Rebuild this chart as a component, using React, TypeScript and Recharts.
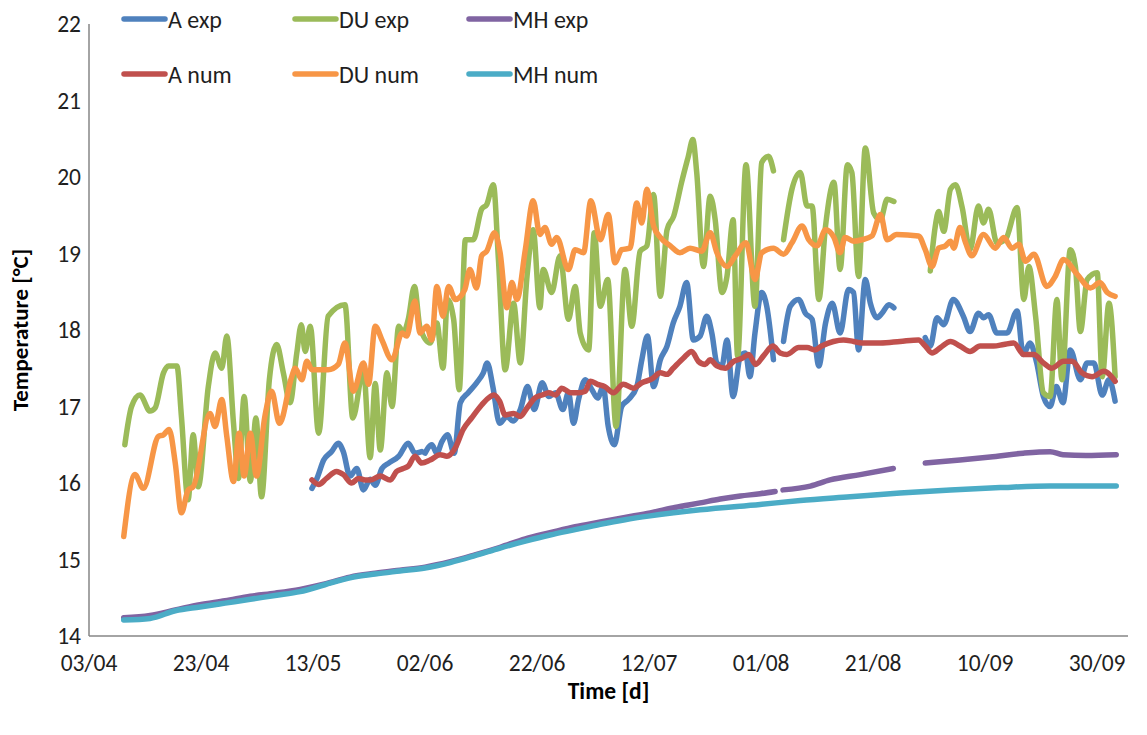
import React from 'react';
import { LineChart, Line, XAxis, YAxis, Legend } from 'recharts';

type Pt = [number, number | null];

const FONT = "Carlito, Calibri, 'Liberation Sans Narrow', 'Liberation Sans', sans-serif";

const seriesNames = ['A exp', 'DU exp', 'MH exp', 'A num', 'DU num', 'MH num'];
const seriesColors = ['#4F81BD', '#9BBB59', '#8064A2', '#C0504D', '#F79646', '#4BACC6'];

// x = days since 03/04
const dayTicks = [0, 20, 40, 60, 80, 100, 120, 140, 160, 180];
const dateLabels = ['03/04', '23/04', '13/05', '02/06', '22/06', '12/07', '01/08', '21/08', '10/09', '30/09'];
const tempTicks = [14, 15, 16, 17, 18, 19, 20, 21, 22];

const aExp: Pt[] = [
  [39.8, 15.93], [40.7, 16.06], [41.9, 16.3], [43.3, 16.41], [44.5, 16.52], [45.4, 16.41], [46.6, 16.09],
  [47.8, 16.19], [49.0, 15.91], [50.2, 16.05], [51.1, 15.97], [52.3, 16.19], [53.5, 16.26], [55.3, 16.35],
  [57.0, 16.52], [58.2, 16.39], [59.4, 16.41], [59.7, null], [60.0, 16.39], [61.2, 16.5], [62.1, 16.39],
  [63.0, 16.54], [64.0, 16.63], [65.2, 16.39], [66.3, 17.05], [67.7, 17.18], [69.2, 17.31], [70.4, 17.44],
  [71.1, 17.57], [72.1, 17.26], [73.3, 16.78], [74.6, 16.87], [75.7, 16.81], [77.0, 16.96], [78.3, 17.26],
  [79.5, 16.96], [80.9, 17.31], [82.1, 17.13], [83.3, 17.18], [84.6, 16.96], [85.6, 17.18], [86.5, 16.78],
  [87.4, 17.09], [88.6, 17.35], [89.8, 17.22], [90.8, 17.11], [91.8, 17.26], [92.7, 16.74], [93.8, 16.5],
  [95.1, 17.0], [96.3, 17.09], [97.8, 17.26], [98.7, 17.61], [99.7, 17.92], [100.8, 17.26], [102.0, 17.61],
  [103.2, 17.79], [104.3, 18.09], [105.5, 18.31], [106.7, 18.62], [107.9, 17.87], [109.1, 17.92], [110.3, 18.18],
  [111.2, 17.96], [112.1, 17.57], [113.0, 17.53], [113.9, 17.87], [115.0, 17.13], [116.3, 17.66], [117.2, 17.7],
  [118.0, 17.39], [118.9, 17.96], [120.1, 18.49], [121.0, 18.31], [122.2, 17.61], [123.1, null], [124.0, 17.85],
  [125.2, 18.31], [126.7, 18.4], [127.9, 18.22], [129.1, 18.14], [130.3, 17.53], [131.5, 18.09], [132.7, 18.35],
  [134.1, 17.96], [135.6, 18.53], [136.5, 18.49], [137.4, 17.74], [138.6, 18.66], [139.5, 18.35], [140.7, 18.16],
  [141.6, 18.22], [142.8, 18.33], [143.7, 18.29], [146.5, null], [149.3, 17.9], [150.2, 17.79], [151.4, 18.16],
  [152.6, 18.07], [154.3, 18.4], [156.1, 18.18], [157.3, 17.98], [158.8, 18.22], [159.7, 18.16], [160.6, 18.2],
  [162.1, 17.96], [163.9, 17.96], [165.7, 18.25], [166.8, 17.68], [168.0, 17.83], [169.2, 17.57], [170.4, 17.13],
  [171.6, 17.0], [172.7, 17.26], [173.9, 17.05], [175.2, 17.74], [177.0, 17.35], [178.2, 17.57], [179.4, 17.57],
  [180.9, 17.15], [182.1, 17.35], [183.2, 17.07],
];

const duExp: Pt[] = [
  [6.4, 16.5], [7.6, 17.0], [9.1, 17.15], [10.9, 16.94], [11.8, 16.98], [13.3, 17.44], [14.2, 17.53],
  [15.7, 17.53], [16.5, 16.87], [17.7, 15.78], [18.6, 16.63], [19.5, 15.95], [21.3, 17.26], [22.5, 17.7],
  [23.7, 17.5], [24.6, 17.92], [25.8, 16.78], [26.7, 16.06], [27.7, 17.13], [28.8, 16.02], [29.8, 16.85],
  [30.8, 15.82], [32.2, 17.35], [33.5, 17.81], [34.7, 17.44], [35.9, 17.05], [37.1, 17.7], [37.9, 18.07],
  [38.6, 17.72], [39.5, 18.05], [41.0, 16.65], [42.7, 18.18], [45.7, 18.33], [47.1, 16.85], [49.0, 17.48],
  [50.2, 16.33], [51.1, 17.3], [52.0, 16.43], [53.2, 17.44], [54.1, 17.0], [55.3, 18.05], [56.1, 17.96],
  [57.0, 18.14], [58.1, 18.57], [59.1, 18.03], [60.9, 17.83], [62.1, 18.09], [63.2, 17.5], [64.0, 18.4],
  [65.1, 18.14], [66.1, 17.22], [67.2, 19.18], [68.6, 19.18], [70.1, 19.58], [71.0, 19.64], [72.2, 19.9],
  [73.1, 18.92], [74.3, 17.48], [75.8, 18.35], [77.0, 17.57], [78.2, 18.7], [79.3, 19.31], [80.5, 18.29],
  [81.1, 18.79], [82.6, 18.49], [84.1, 18.97], [85.6, 18.14], [86.8, 18.57], [87.7, 17.96], [89.2, 17.74],
  [90.2, 19.27], [91.3, 18.31], [92.6, 18.66], [94.1, 16.74], [95.7, 18.79], [96.9, 18.05], [98.4, 19.03],
  [99.6, 19.1], [100.8, 19.77], [102.0, 18.44], [103.2, 19.31], [104.4, 19.49], [105.8, 19.93], [107.0, 20.27],
  [107.8, 20.49], [108.5, 20.06], [109.7, 18.83], [110.9, 19.75], [111.8, 19.44], [113.0, 18.49], [113.9, 18.7],
  [115.0, 19.44], [115.8, 17.66], [117.3, 20.16], [118.9, 18.31], [120.1, 20.19], [121.3, 20.27], [122.2, 20.08],
  [123.1, null], [124.0, 19.18], [125.5, 19.84], [127.0, 20.06], [128.2, 19.62], [129.1, 19.62], [130.3, 18.4],
  [131.5, 19.36], [133.0, 19.93], [134.1, 18.79], [135.4, 20.16], [136.2, 20.06], [137.4, 18.7], [138.6, 20.38],
  [140.1, 19.53], [141.3, 19.44], [142.5, 19.71], [143.7, 19.68], [147.0, null], [150.2, 18.77], [151.1, 19.36],
  [151.7, 19.55], [152.6, 19.29], [153.8, 19.84], [154.7, 19.9], [155.9, 19.6], [157.3, 19.05], [158.8, 19.62],
  [159.7, 19.4], [160.6, 19.58], [162.1, 19.14], [163.6, 19.18], [165.7, 19.6], [166.9, 18.4], [167.8, 18.83],
  [169.0, 18.18], [170.4, 17.18], [171.6, 17.13], [172.8, 18.4], [173.7, 17.35], [175.2, 19.05], [176.1, 18.83],
  [177.0, 17.98], [178.2, 18.66], [180.0, 18.75], [180.9, 17.39], [182.1, 18.35], [183.2, 17.39],
];

const mhExp: Pt[] = [
  [6.2, 14.24], [10.9, 14.27], [15.4, 14.34], [19.8, 14.41], [24.3, 14.46], [28.8, 14.52], [33.2, 14.56],
  [37.7, 14.61], [42.1, 14.68], [46.6, 14.77], [51.1, 14.82], [55.5, 14.86], [60.0, 14.9], [64.5, 14.97],
  [68.9, 15.06], [73.4, 15.16], [77.9, 15.27], [82.3, 15.35], [86.8, 15.43], [91.3, 15.49], [95.7, 15.55],
  [100.2, 15.61], [104.6, 15.68], [109.1, 15.74], [112.7, 15.79], [116.3, 15.83], [119.8, 15.86], [122.5, 15.89],
  [123.2, null], [123.9, 15.91], [128.8, 15.96], [132.3, 16.04], [137.7, 16.11], [143.6, 16.19], [146.0, null],
  [149.3, 16.26], [155.5, 16.3], [160.9, 16.34], [166.8, 16.39], [171.6, 16.41], [173.9, 16.37], [178.0, 16.36],
  [183.4, 16.37],
];

const aNum: Pt[] = [
  [39.8, 16.04], [41.0, 15.98], [42.4, 16.06], [44.2, 16.15], [45.4, 16.11], [46.9, 16.0], [48.1, 16.06],
  [49.3, 16.04], [50.2, 16.04], [52.0, 16.09], [53.8, 16.04], [54.9, 16.15], [56.1, 16.19], [57.0, 16.22],
  [58.2, 16.35], [59.4, 16.26], [60.9, 16.3], [62.7, 16.37], [63.9, 16.35], [65.4, 16.46], [66.8, 16.7],
  [68.3, 16.85], [70.1, 17.02], [71.3, 17.11], [72.3, 17.15], [73.3, 17.07], [74.3, 16.89], [75.8, 16.91],
  [77.0, 16.87], [78.2, 16.98], [79.6, 17.11], [80.9, 17.15], [82.1, 17.18], [83.3, 17.15], [84.4, 17.24],
  [86.0, 17.18], [87.4, 17.18], [88.6, 17.2], [89.5, 17.33], [90.8, 17.29], [92.1, 17.26], [93.6, 17.18],
  [95.4, 17.29], [97.2, 17.24], [98.7, 17.31], [100.5, 17.36], [102.0, 17.44], [103.2, 17.42], [104.3, 17.5],
  [106.1, 17.63], [107.6, 17.72], [108.8, 17.59], [110.0, 17.55], [110.9, 17.61], [112.1, 17.53], [113.6, 17.5],
  [115.1, 17.59], [116.6, 17.63], [117.8, 17.68], [119.0, 17.55], [120.4, 17.66], [122.1, 17.79], [123.4, 17.7],
  [124.6, 17.68], [126.7, 17.77], [128.2, 17.77], [129.6, 17.74], [130.8, 17.79], [132.9, 17.85], [134.7, 17.87],
  [136.5, 17.85], [138.0, 17.83], [139.5, 17.83], [141.3, 17.83], [144.8, 17.85], [148.1, 17.87], [149.3, 17.79],
  [150.5, 17.7], [152.0, 17.77], [153.8, 17.85], [155.5, 17.79], [157.3, 17.72], [159.1, 17.79], [161.5, 17.79],
  [163.3, 17.81], [165.1, 17.83], [166.9, 17.68], [168.7, 17.68], [170.4, 17.57], [171.9, 17.5], [174.0, 17.59],
  [175.5, 17.59], [177.3, 17.44], [179.1, 17.39], [181.2, 17.46], [183.2, 17.33],
];

const duNum: Pt[] = [
  [6.2, 15.3], [8.2, 16.11], [9.7, 15.93], [12.4, 16.61], [13.3, 16.63], [14.3, 16.7], [15.4, 16.26],
  [16.5, 15.61], [17.7, 15.91], [18.6, 15.95], [21.6, 16.91], [22.5, 16.74], [23.7, 17.09], [24.6, 16.61],
  [25.8, 16.02], [26.8, 16.65], [27.7, 16.09], [28.8, 16.65], [29.9, 16.09], [31.4, 16.87], [32.6, 17.2],
  [34.0, 16.78], [36.2, 17.39], [36.8, 17.5], [38.0, 17.35], [38.9, 17.59], [39.8, 17.48], [42.7, 17.48],
  [44.5, 17.55], [45.7, 17.83], [47.2, 17.2], [49.0, 17.57], [49.9, 17.29], [51.1, 18.05], [52.3, 17.87],
  [54.1, 17.61], [55.9, 17.96], [56.7, 17.92], [58.2, 18.38], [59.1, 17.96], [60.3, 18.05], [61.2, 17.87],
  [62.1, 18.57], [63.2, 18.18], [64.2, 18.57], [65.4, 18.4], [67.1, 18.53], [68.0, 18.79], [69.2, 18.55],
  [70.1, 18.97], [71.0, 19.03], [72.4, 19.27], [73.4, 19.01], [74.6, 18.29], [75.5, 18.62], [76.4, 18.4],
  [77.9, 19.05], [79.3, 19.69], [80.5, 19.25], [81.4, 19.34], [82.6, 19.12], [83.5, 19.21], [85.6, 18.79],
  [86.8, 19.05], [88.3, 19.01], [89.6, 19.69], [91.3, 19.18], [92.7, 19.51], [93.9, 18.88], [95.1, 19.05],
  [96.6, 19.07], [97.8, 19.66], [98.7, 19.4], [99.6, 19.84], [100.8, 19.36], [102.0, 19.21], [103.8, 19.1],
  [105.5, 19.01], [107.3, 19.07], [109.4, 19.03], [110.9, 19.27], [112.1, 19.01], [113.9, 18.83], [115.4, 18.97],
  [117.3, 19.14], [118.9, 18.66], [120.1, 19.01], [122.2, 19.07], [124.0, 18.99], [125.5, 19.14], [127.3, 19.36],
  [128.5, 19.18], [130.0, 19.1], [131.5, 19.31], [133.0, 19.21], [134.1, 19.01], [135.0, 19.21], [136.5, 19.16],
  [138.0, 19.18], [139.8, 19.23], [141.3, 19.51], [142.5, 19.18], [144.2, 19.25], [148.1, 19.23], [149.3, 19.05],
  [150.5, 18.83], [151.7, 19.07], [152.9, 19.1], [153.8, 19.16], [154.4, 19.07], [155.5, 19.34], [156.5, 19.14],
  [157.6, 18.97], [159.7, 19.25], [161.8, 19.07], [163.3, 19.21], [164.8, 19.07], [166.0, 19.12], [167.2, 18.9],
  [168.7, 18.99], [171.0, 18.57], [172.5, 18.7], [174.0, 18.92], [176.4, 18.73], [178.8, 18.55], [180.5, 18.62],
  [181.8, 18.49], [183.2, 18.44],
];

const mhNum: Pt[] = [
  [6.2, 14.21], [10.9, 14.23], [15.4, 14.33], [19.8, 14.38], [24.3, 14.43], [28.8, 14.48], [33.2, 14.53],
  [37.7, 14.58], [42.1, 14.67], [46.6, 14.76], [51.1, 14.81], [55.5, 14.85], [60.0, 14.89], [64.5, 14.96],
  [68.9, 15.05], [73.4, 15.15], [77.9, 15.24], [82.3, 15.32], [86.8, 15.39], [91.3, 15.46], [95.7, 15.52],
  [100.2, 15.57], [109.1, 15.65], [119.8, 15.72], [127.0, 15.77], [135.9, 15.82], [144.8, 15.87], [153.8, 15.91],
  [162.7, 15.94], [171.6, 15.96], [183.4, 15.96],
];

const seriesData: Pt[][] = [aExp, duExp, mhExp, aNum, duNum, mhNum];

const toRows = (pts: Pt[]) => pts.map(([d, v]) => ({ d, v }));

const legendCols = [114, 285, 459];
const legendRows = [11, 66];

const renderLegend = (props: any) => {
  const payload: any[] = props.payload || [];
  return (
    <svg width={720} height={90} style={{ display: 'block', overflow: 'visible' }}>
      {payload.map((p: any) => {
        const i = seriesNames.indexOf(p.value);
        if (i < 0) return null;
        const x = legendCols[i % 3];
        const y = legendRows[Math.floor(i / 3)];
        return (
          <g key={p.value}>
            <line x1={x + 2} x2={x + 43} y1={y} y2={y} stroke={seriesColors[i]} strokeWidth={5.5} strokeLinecap="round" />
            <text x={x + 46} y={y + 8.5} fontSize={24} fill="#1f1f1f" fontFamily={FONT}>
              {p.value}
            </text>
          </g>
        );
      })}
    </svg>
  );
};

export default function App() {
  return (
    <div style={{ width: 1131, height: 719, fontFamily: FONT }}>
      <LineChart width={1131} height={719} margin={{ top: 16, right: 11, bottom: 0, left: 0 }}>
        <XAxis
          dataKey="d"
          type="number"
          domain={[0, 185.5]}
          ticks={dayTicks}
          allowDataOverflow
          tickFormatter={(v: number) => dateLabels[Math.round(v / 20)] ?? ''}
          axisLine={{ stroke: '#868686', strokeWidth: 1.5 }}
          tickLine={false}
          tickMargin={12}
          height={91}
          tick={{ fontSize: 23.5, fill: '#1f1f1f', fontFamily: FONT }}
          label={{
            value: 'Time [d]',
            position: 'insideBottom',
            offset: 28,
            style: { fontSize: 23.5, fontWeight: 'bold', fill: '#000', fontFamily: FONT },
          }}
        />
        <YAxis
          type="number"
          domain={[14, 22]}
          ticks={tempTicks}
          allowDataOverflow
          width={81}
          axisLine={{ stroke: '#868686', strokeWidth: 1.5 }}
          tickLine={false}
          tick={{ fontSize: 23.5, fill: '#1f1f1f', fontFamily: FONT }}
          label={{
            value: 'Temperature [°C]',
            angle: -90,
            position: 'insideLeft',
            offset: 12,
            style: { textAnchor: 'middle', fontSize: 23, fontWeight: 'bold', fill: '#000', fontFamily: FONT },
          }}
        />
        <Legend
          layout="horizontal"
          verticalAlign="middle"
          align="center"
          wrapperStyle={{ top: 0, left: 0, width: 720, height: 90 }}
          content={renderLegend}
        />
        {seriesNames.map((name, i) => (
          <Line
            key={name}
            name={name}
            data={toRows(seriesData[i])}
            dataKey="v"
            type="monotone"
            stroke={seriesColors[i]}
            strokeWidth={5.5}
            strokeLinecap="round"
            strokeLinejoin="round"
            dot={false}
            activeDot={false}
            connectNulls={false}
            isAnimationActive={false}
          />
        ))}
      </LineChart>
    </div>
  );
}
